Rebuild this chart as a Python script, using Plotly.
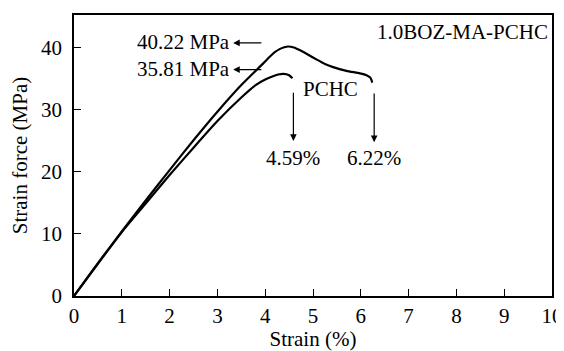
import plotly.graph_objects as go

# Data
strain_pchc = [0, 0.5, 1.0, 1.5, 2.0, 2.5, 3.0, 3.5, 3.8, 4.0, 4.15, 4.27, 4.38, 4.5, 4.57]
stress_pchc = [0, 5.2, 10.3, 14.9, 19.5, 23.9, 28.2, 32.0, 34.0, 34.9, 35.4, 35.7, 35.81, 35.6, 35.1]

strain_boz = [0, 0.5, 1.0, 1.5, 2.0, 2.5, 3.0, 3.5, 3.96, 4.1, 4.2, 4.3, 4.4, 4.48, 4.6, 4.73, 4.9, 5.08, 5.25, 5.42, 5.7, 5.98, 6.12, 6.2, 6.24]
stress_boz = [0, 5.3, 10.4, 15.4, 20.3, 25.1, 29.7, 34.0, 37.5, 38.6, 39.3, 39.8, 40.1, 40.22, 40.05, 39.6, 38.9, 38.1, 37.4, 36.9, 36.3, 35.9, 35.6, 35.2, 34.4]

x_ticks = [0, 1, 2, 3, 4, 5, 6, 7, 8, 9, 10]
y_ticks = [0, 10, 20, 30, 40]

FONT = "Liberation Serif, Times New Roman, serif"
FS = 21

fig = go.Figure()
fig.add_trace(go.Scatter(x=strain_boz, y=stress_boz, mode="lines",
                         line=dict(color="black", width=2.2, shape="spline", smoothing=0.6),
                         name="1.0BOZ-MA-PCHC", showlegend=False))
fig.add_trace(go.Scatter(x=strain_pchc, y=stress_pchc, mode="lines",
                         line=dict(color="black", width=2.2, shape="spline", smoothing=0.6),
                         name="PCHC", showlegend=False))

ann = []
def text(x, y, t, xanchor="center"):
    ann.append(dict(x=x, y=y, xref="x", yref="y", text=t, showarrow=False,
                    xanchor=xanchor, yanchor="middle",
                    font=dict(family=FONT, size=FS, color="black")))

def arrow(x, y, ax, ay):
    ann.append(dict(x=x, y=y, ax=ax, ay=ay, xref="x", yref="y", axref="x", ayref="y",
                    text="", showarrow=True, arrowhead=2, arrowsize=1.1, arrowwidth=1.2,
                    arrowcolor="black"))

text(3.3, 40.9, "40.22 MPa", "right")
arrow(3.33, 40.8, 3.95, 40.8)
text(3.3, 36.6, "35.81 MPa", "right")
arrow(3.33, 36.5, 3.95, 36.5)
text(5.36, 33.3, "PCHC")
arrow(4.59, 25.0, 4.59, 33.0)
text(4.59, 22.2, "4.59%")
arrow(6.28, 24.8, 6.28, 32.9)
text(6.28, 22.2, "6.22%")
text(9.95, 42.6, "1.0BOZ-MA-PCHC", "right")

# the page body has an 8 px margin, so the figure is sized to fit the window
fig.update_layout(
    width=556, height=343,
    margin=dict(l=66, r=12, t=7, b=55),
    paper_bgcolor="white", plot_bgcolor="white",
    font=dict(family=FONT, size=FS, color="black"),
    annotations=ann,
    showlegend=False,
)
fig.update_xaxes(range=[0, 10], tickvals=x_ticks, ticktext=[str(v) for v in x_ticks],
                 ticks="inside", ticklen=7, tickwidth=1.2, tickcolor="black",
                 showline=True, linecolor="black", linewidth=1.5, mirror=True,
                 showgrid=False, zeroline=False, automargin=False,
                 title=dict(text="Strain (%)", standoff=4, font=dict(size=FS)))
fig.update_yaxes(range=[0, 45.3], tickvals=y_ticks, ticktext=[str(v) for v in y_ticks],
                 ticks="inside", ticklen=7, tickwidth=1.2, tickcolor="black",
                 showline=True, linecolor="black", linewidth=1.5, mirror=True,
                 showgrid=False, zeroline=False, automargin=False, ticklabelstandoff=6,
                 title=dict(text="Strain force (MPa)", standoff=8, font=dict(size=FS)))

fig.write_html("out.html")
